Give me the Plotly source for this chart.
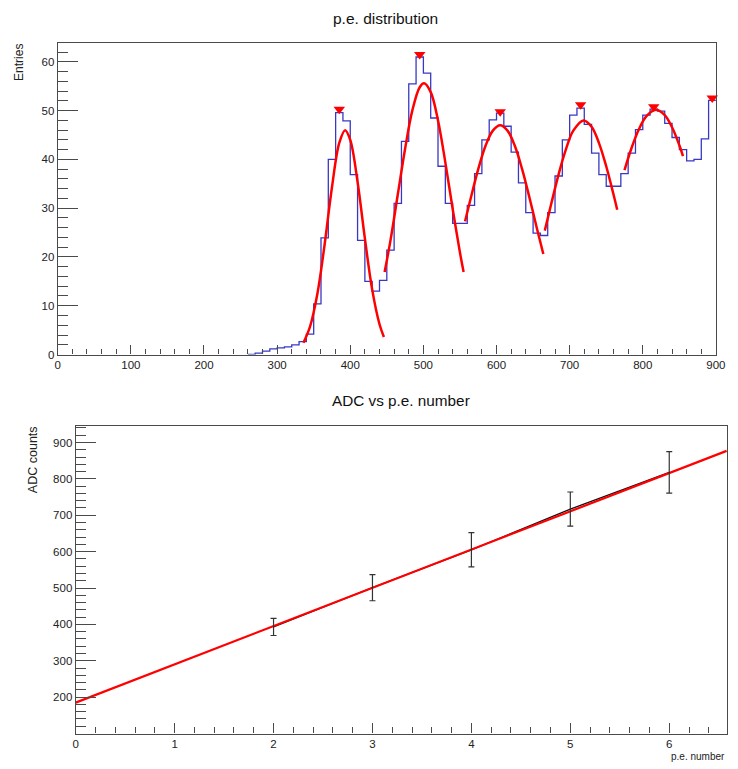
import plotly.graph_objects as go

# ---------------- top: p.e. distribution histogram ----------------
bin_lo = [260, 270, 280, 290, 300, 310, 320, 330, 340, 350, 360, 370, 380, 390, 400,
          410, 420, 430, 440, 450, 460, 470, 480, 490, 500, 510, 520, 530, 540, 550,
          560, 570, 580, 590, 600, 610, 620, 630, 640, 650, 660, 670, 680, 690, 700,
          710, 720, 730, 740, 750, 760, 770, 780, 790, 800, 810, 820, 830, 840, 850,
          860, 870, 880, 890, 900]
entries = [0.0, 0.27, 0.68, 1.15, 1.36, 1.56, 1.97, 2.64, 4.2, 10.4, 23.9, 40.0, 49.6, 47.9, 36.9,
           23.4, 15.0, 13.0, 15.2, 21.4, 31.0, 43.7, 55.5, 61.0, 57.7, 48.5, 38.6, 31.0, 26.9, 26.9,
           30.6, 37.1, 44.0, 48.1, 49.5, 46.8, 41.5, 35.2, 29.1, 24.9, 24.4, 29.1, 36.6, 44.0, 49.1,
           50.5, 47.2, 41.3, 36.9, 34.5, 34.5, 37.1, 41.3, 46.1, 49.1, 50.3, 49.9, 47.4, 44.5, 42.0,
           39.7, 40.0, 44.2, 52.1, 52.1]

peak_x = [385, 495, 605, 715, 815, 895]
peak_y = [50.3, 61.5, 49.8, 51.2, 50.8, 52.6]

fit1_x = [336, 345, 355, 365, 375, 385, 393, 400, 410, 420, 430, 440, 446]
fit1_y = [2.4, 5.7, 12.4, 22.6, 34.3, 43.4, 46.0, 44.0, 35.4, 23.8, 13.3, 6.2, 3.6]
fit2_x = [447, 455, 465, 475, 485, 495, 501, 510, 520, 530, 540, 550, 555]
fit2_y = [16.9, 23.4, 32.8, 42.2, 50.1, 54.8, 55.6, 53.8, 48.0, 39.4, 29.9, 20.9, 16.9]
fit3_x = [557, 565, 575, 585, 595, 605, 615, 625, 635, 645, 655, 664]
fit3_y = [27.3, 32.2, 38.0, 42.8, 45.9, 47.0, 45.9, 42.8, 38.0, 32.2, 26.0, 20.6]
fit4_x = [666, 675, 685, 695, 705, 719, 730, 740, 750, 760, 765]
fit4_y = [25.4, 31.0, 37.0, 42.1, 45.9, 48.0, 46.7, 43.4, 38.6, 32.8, 29.7]
fit5_x = [775, 785, 795, 805, 818, 830, 840, 850, 855]
fit5_y = [37.8, 42.5, 46.3, 48.9, 50.2, 49.1, 46.6, 42.9, 40.7]

# ---------------- bottom: ADC vs p.e. number ----------------
pe_number = [2, 3, 4, 5, 6]
adc_mean = [393, 501, 605, 717, 818]
adc_sigma = [23.5, 36, 47, 47, 57]
line_x = [0, 6.58]
line_y = [185, 877]

FONT = "Liberation Sans, Arial, Helvetica, sans-serif"
FRAME = "#4a4a4a"

fig = go.Figure()

fig.add_trace(go.Scatter(x=bin_lo, y=entries, mode="lines", line=dict(shape="hv", color="#3838c4", width=1.3),
                         xaxis="x", yaxis="y", hoverinfo="skip"))
for fx, fy in [(fit1_x, fit1_y), (fit2_x, fit2_y), (fit3_x, fit3_y), (fit4_x, fit4_y), (fit5_x, fit5_y)]:
    fig.add_trace(go.Scatter(x=fx, y=fy, mode="lines", line=dict(shape="spline", color="#ff0000", width=2.5),
                             xaxis="x", yaxis="y"))
fig.add_trace(go.Scatter(x=peak_x, y=peak_y, mode="markers", cliponaxis=False,
                         marker=dict(symbol="triangle-down", size=10, color="#ff0000"),
                         xaxis="x", yaxis="y"))

fig.add_trace(go.Scatter(x=pe_number, y=adc_mean, mode="lines", line=dict(color="#111111", width=1.3),
                         xaxis="x2", yaxis="y2"))
fig.add_trace(go.Scatter(x=line_x, y=line_y, mode="lines", line=dict(color="#ff0000", width=2.2),
                         xaxis="x2", yaxis="y2"))
fig.add_trace(go.Scatter(x=pe_number, y=adc_mean, mode="markers",
                         marker=dict(size=1, color="#222222"),
                         error_y=dict(type="data", array=adc_sigma, visible=True, color="#333333",
                                      thickness=1.2, width=3),
                         xaxis="x2", yaxis="y2"))

W, H = 738, 769
def px(v):
    return v / W
def py(v):
    return 1 - v / H

axis_common = dict(showline=True, mirror=True, linecolor=FRAME, linewidth=1.2, ticks="inside",
                   tickcolor=FRAME, tickwidth=1, showgrid=False, zeroline=False,
                   tickfont=dict(family=FONT, size=11.5, color="#222222"))

fig.update_layout(
    width=W, height=H, margin=dict(l=0, r=0, t=0, b=0),
    paper_bgcolor="white", plot_bgcolor="white", showlegend=False,
    xaxis=dict(domain=[px(55.7), px(725.7)], anchor="y", range=[0, 900], tickmode="linear", tick0=0, dtick=100,
               ticklen=9, minor=dict(ticks="inside", ticklen=5, dtick=20, tick0=0, tickcolor=FRAME, showgrid=False),
               **axis_common),
    yaxis=dict(domain=[py(357.3), py(43.7)], anchor="x", range=[0, 63.8], tickmode="linear", tick0=0, dtick=10,
               ticklen=20, minor=dict(ticks="inside", ticklen=10, dtick=2, tick0=0, tickcolor=FRAME, showgrid=False),
               **axis_common),
    xaxis2=dict(domain=[px(74), px(737.3)], anchor="y2", range=[0, 6.587], tickmode="linear", tick0=0, dtick=1,
                ticklen=10, minor=dict(ticks="inside", ticklen=6, dtick=0.2, tick0=0, tickcolor=FRAME, showgrid=False),
                **axis_common),
    yaxis2=dict(domain=[py(739.3), py(429.3)], anchor="x2", range=[100, 945.5], tickmode="array",
                tickvals=[200, 300, 400, 500, 600, 700, 800, 900],
                ticklen=20, minor=dict(ticks="inside", ticklen=10, dtick=20, tick0=100, tickmode="linear",
                                       tickcolor=FRAME, showgrid=False),
                **axis_common),
    annotations=[
        dict(text="p.e. distribution", x=px(389), y=py(18.5), xref="paper", yref="paper", showarrow=False,
             xanchor="center", yanchor="middle", font=dict(family=FONT, size=15.5, color="#111111")),
        dict(text="ADC vs p.e. number", x=px(404.7), y=py(403.5), xref="paper", yref="paper", showarrow=False,
             xanchor="center", yanchor="middle", font=dict(family=FONT, size=15.3, color="#111111")),
        dict(text="Entries", x=px(15.5), y=py(42.5), xref="paper", yref="paper", showarrow=False, textangle=-90,
             xanchor="center", yanchor="top", font=dict(family=FONT, size=12, color="#222222")),
        dict(text="ADC counts", x=px(30), y=py(427.5), xref="paper", yref="paper", showarrow=False, textangle=-90,
             xanchor="center", yanchor="top", font=dict(family=FONT, size=12.5, color="#222222")),
        dict(text="p.e. number", x=px(737), y=py(762), xref="paper", yref="paper", showarrow=False,
             xanchor="right", yanchor="middle", font=dict(family=FONT, size=10, color="#222222")),
    ],
)

fig.write_html("out.html", config={"displayModeBar": False},
               post_script="document.body.style.margin='0';document.body.style.overflow='hidden';")
